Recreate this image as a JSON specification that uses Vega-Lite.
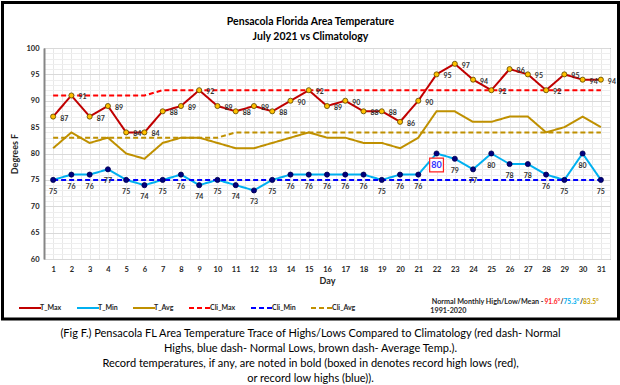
{
  "$schema": "https://vega.github.io/schema/vega-lite/v6.json",
  "padding": 0,
  "background": "white",
  "config": {
    "font": "Lato",
    "view": {"stroke": "#404040", "strokeWidth": 1}
  },
  "datasets": {
    "temps": [
      {"Day": 1, "T_Max": 87, "T_Min": 75, "T_Avg": 81, "Cli_Max": 91, "Cli_Min": 75, "Cli_Avg": 83},
      {"Day": 2, "T_Max": 91, "T_Min": 76, "T_Avg": 84, "Cli_Max": 91, "Cli_Min": 75, "Cli_Avg": 83},
      {"Day": 3, "T_Max": 87, "T_Min": 76, "T_Avg": 82, "Cli_Max": 91, "Cli_Min": 75, "Cli_Avg": 83},
      {"Day": 4, "T_Max": 89, "T_Min": 77, "T_Avg": 83, "Cli_Max": 91, "Cli_Min": 75, "Cli_Avg": 83},
      {"Day": 5, "T_Max": 84, "T_Min": 75, "T_Avg": 80, "Cli_Max": 91, "Cli_Min": 75, "Cli_Avg": 83},
      {"Day": 6, "T_Max": 84, "T_Min": 74, "T_Avg": 79, "Cli_Max": 91, "Cli_Min": 75, "Cli_Avg": 83},
      {"Day": 7, "T_Max": 88, "T_Min": 75, "T_Avg": 82, "Cli_Max": 92, "Cli_Min": 75, "Cli_Avg": 83},
      {"Day": 8, "T_Max": 89, "T_Min": 76, "T_Avg": 83, "Cli_Max": 92, "Cli_Min": 75, "Cli_Avg": 83},
      {"Day": 9, "T_Max": 92, "T_Min": 74, "T_Avg": 83, "Cli_Max": 92, "Cli_Min": 75, "Cli_Avg": 83},
      {"Day": 10, "T_Max": 89, "T_Min": 75, "T_Avg": 82, "Cli_Max": 92, "Cli_Min": 75, "Cli_Avg": 83},
      {"Day": 11, "T_Max": 88, "T_Min": 74, "T_Avg": 81, "Cli_Max": 92, "Cli_Min": 75, "Cli_Avg": 84},
      {"Day": 12, "T_Max": 89, "T_Min": 73, "T_Avg": 81, "Cli_Max": 92, "Cli_Min": 75, "Cli_Avg": 84},
      {"Day": 13, "T_Max": 88, "T_Min": 75, "T_Avg": 82, "Cli_Max": 92, "Cli_Min": 75, "Cli_Avg": 84},
      {"Day": 14, "T_Max": 90, "T_Min": 76, "T_Avg": 83, "Cli_Max": 92, "Cli_Min": 75, "Cli_Avg": 84},
      {"Day": 15, "T_Max": 92, "T_Min": 76, "T_Avg": 84, "Cli_Max": 92, "Cli_Min": 75, "Cli_Avg": 84},
      {"Day": 16, "T_Max": 89, "T_Min": 76, "T_Avg": 83, "Cli_Max": 92, "Cli_Min": 75, "Cli_Avg": 84},
      {"Day": 17, "T_Max": 90, "T_Min": 76, "T_Avg": 83, "Cli_Max": 92, "Cli_Min": 75, "Cli_Avg": 84},
      {"Day": 18, "T_Max": 88, "T_Min": 76, "T_Avg": 82, "Cli_Max": 92, "Cli_Min": 75, "Cli_Avg": 84},
      {"Day": 19, "T_Max": 88, "T_Min": 75, "T_Avg": 82, "Cli_Max": 92, "Cli_Min": 75, "Cli_Avg": 84},
      {"Day": 20, "T_Max": 86, "T_Min": 76, "T_Avg": 81, "Cli_Max": 92, "Cli_Min": 75, "Cli_Avg": 84},
      {"Day": 21, "T_Max": 90, "T_Min": 76, "T_Avg": 83, "Cli_Max": 92, "Cli_Min": 75, "Cli_Avg": 84},
      {"Day": 22, "T_Max": 95, "T_Min": 80, "T_Avg": 88, "Cli_Max": 92, "Cli_Min": 75, "Cli_Avg": 84, "Record_High_Low": true},
      {"Day": 23, "T_Max": 97, "T_Min": 79, "T_Avg": 88, "Cli_Max": 92, "Cli_Min": 75, "Cli_Avg": 84},
      {"Day": 24, "T_Max": 94, "T_Min": 77, "T_Avg": 86, "Cli_Max": 92, "Cli_Min": 75, "Cli_Avg": 84},
      {"Day": 25, "T_Max": 92, "T_Min": 80, "T_Avg": 86, "Cli_Max": 92, "Cli_Min": 75, "Cli_Avg": 84},
      {"Day": 26, "T_Max": 96, "T_Min": 78, "T_Avg": 87, "Cli_Max": 92, "Cli_Min": 75, "Cli_Avg": 84},
      {"Day": 27, "T_Max": 95, "T_Min": 78, "T_Avg": 87, "Cli_Max": 92, "Cli_Min": 75, "Cli_Avg": 84},
      {"Day": 28, "T_Max": 92, "T_Min": 76, "T_Avg": 84, "Cli_Max": 92, "Cli_Min": 75, "Cli_Avg": 84},
      {"Day": 29, "T_Max": 95, "T_Min": 75, "T_Avg": 85, "Cli_Max": 92, "Cli_Min": 75, "Cli_Avg": 84},
      {"Day": 30, "T_Max": 94, "T_Min": 80, "T_Avg": 87, "Cli_Max": 92, "Cli_Min": 75, "Cli_Avg": 84},
      {"Day": 31, "T_Max": 94, "T_Min": 75, "T_Avg": 85, "Cli_Max": 92, "Cli_Min": 75, "Cli_Avg": 84}
    ]
  },
  "title": {
    "text": [
      "(Fig F.) Pensacola FL Area Temperature Trace of Highs/Lows Compared to Climatology (red dash- Normal",
      "Highs, blue dash- Normal Lows, brown dash- Average Temp.).",
      "Record temperatures, if any, are noted in bold (boxed in denotes record high lows (red),",
      "or record low highs (blue))."
    ],
    "orient": "bottom",
    "anchor": "middle",
    "frame": "bounds",
    "font": "Lato",
    "fontSize": 11,
    "fontWeight": "normal",
    "color": "#000000",
    "lineHeight": 15,
    "baseline": "top",
    "offset": 7
  },
  "vconcat": [
    {
      "width": 566,
      "height": 211,
      "title": {
        "text": ["Pensacola Florida Area Temperature", "July 2021 vs Climatology"],
        "anchor": "middle",
        "frame": "bounds",
        "font": "Lato",
        "fontSize": 10.5,
        "fontWeight": "bold",
        "color": "#000000",
        "lineHeight": 15,
        "baseline": "bottom",
        "offset": -52
      },
      "data": {"name": "temps"},
      "resolve": {"axis": {"x": "independent", "y": "independent"}},
      "layer": [
        {
          "data": {"values": [{}]},
          "mark": {"type": "rect", "fill": "white", "fillOpacity": 0, "stroke": "#000000", "strokeWidth": 3, "clip": false},
          "encoding": {
            "x": {"datum": -1.773, "type": "quantitative", "scale": {"domain": [0.5, 31.5]}, "axis": null},
            "x2": {"datum": 31.966},
            "y": {"datum": 108.63, "type": "quantitative", "scale": {"domain": [60, 100]}, "axis": null},
            "y2": {"datum": 48.63}
          }
        },
        {
          "transform": [{"fold": ["T_Max", "T_Min", "T_Avg", "Cli_Max", "Cli_Min", "Cli_Avg"], "as": ["Series", "Temp"]}],
          "mark": {"type": "line", "strokeWidth": 2},
          "encoding": {
            "x": {
              "field": "Day", "type": "quantitative", "scale": {"domain": [0.5, 31.5]},
              "axis": {"orient": "top", "values": [0.5,1,1.5,2,2.5,3,3.5,4,4.5,5,5.5,6,6.5,7,7.5,8,8.5,9,9.5,10,10.5,11,11.5,12,12.5,13,13.5,14,14.5,15,15.5,16,16.5,17,17.5,18,18.5,19,19.5,20,20.5,21,21.5,22,22.5,23,23.5,24,24.5,25,25.5,26,26.5,27,27.5,28,28.5,29,29.5,30,30.5,31,31.5],
                "grid": true, "gridColor": "#e8e8e8", "labels": false, "ticks": false, "domain": false, "title": null, "minExtent": 0}
            },
            "y": {
              "field": "Temp", "type": "quantitative", "scale": {"domain": [60, 100]},
              "axis": {"orient": "right", "values": [61,62,63,64,66,67,68,69,71,72,73,74,76,77,78,79,81,82,83,84,86,87,88,89,91,92,93,94,96,97,98,99],
                "grid": true, "gridColor": "#eeeeee", "labels": false, "ticks": false, "domain": false, "title": null, "minExtent": 0}
            },
            "color": {
              "field": "Series", "type": "nominal",
              "scale": {"domain": ["T_Max", "T_Min", "T_Avg", "Cli_Max", "Cli_Min", "Cli_Avg"], "range": ["#c00000", "#00b0f0", "#bf9000", "#ff0000", "#0000ff", "#bf9000"]},
              "legend": {"orient": "none", "legendX": -26, "legendY": 248, "direction": "horizontal", "columns": 6, "symbolType": "stroke", "symbolSize": 484, "symbolStrokeWidth": 2, "labelFont": "Lato", "labelFontSize": 7, "labelFontWeight": "bold", "labelColor": "#262626", "labelOffset": -2, "columnPadding": 11, "title": null, "padding": 0}
            },
            "strokeDash": {
              "field": "Series", "type": "nominal",
              "scale": {"domain": ["T_Max", "T_Min", "T_Avg", "Cli_Max", "Cli_Min", "Cli_Avg"], "range": [[1, 0], [1, 0], [1, 0], [5, 3], [5, 3], [5, 3]]}
            }
          }
        },
        {
          "mark": {"type": "point", "filled": true, "shape": "circle", "size": 26, "fill": "#ffc000", "stroke": "#5a4500", "strokeWidth": 0.8, "opacity": 1},
          "encoding": {
            "x": {
              "field": "Day", "type": "quantitative", "scale": {"domain": [0.5, 31.5]},
              "axis": {"orient": "bottom", "values": [1,2,3,4,5,6,7,8,9,10,11,12,13,14,15,16,17,18,19,20,21,22,23,24,25,26,27,28,29,30,31], "format": "d",
                "grid": false, "ticks": false, "domain": true, "domainColor": "#d9d9d9", "labelFont": "Lato", "labelFontSize": 7.5, "labelFontWeight": "bold", "labelColor": "#262626", "labelPadding": 6, "labelFlush": false, "labelOverlap": false,
                "title": "Day", "titleFont": "Lato", "titleFontSize": 9, "titleFontWeight": "bold", "titleColor": "#262626", "titlePadding": 4}
            },
            "y": {
              "field": "T_Max", "type": "quantitative", "scale": {"domain": [60, 100]},
              "axis": {"orient": "left", "values": [60,65,70,75,80,85,90,95,100], "grid": true, "gridColor": "#d9d9d9", "ticks": false, "domain": true, "domainColor": "#868686", "domainWidth": 2,
                "labelFont": "Lato", "labelFontSize": 7.5, "labelFontWeight": "bold", "labelColor": "#262626", "labelPadding": 5, "labelFlush": false,
                "title": "Degrees F", "titleFont": "Lato", "titleFontSize": 9, "titleFontWeight": "bold", "titleColor": "#262626", "titlePadding": 6}
            }
          }
        },
        {
          "mark": {"type": "point", "filled": true, "shape": "circle", "size": 26, "fill": "#00007f", "stroke": "#000050", "strokeWidth": 0.8, "opacity": 1},
          "encoding": {
            "x": {"field": "Day", "type": "quantitative", "scale": {"domain": [0.5, 31.5]}, "axis": null},
            "y": {"field": "T_Min", "type": "quantitative", "scale": {"domain": [60, 100]}, "axis": null}
          }
        },
        {
          "mark": {"type": "text", "align": "left", "baseline": "middle", "dx": 7, "dy": 2, "font": "Lato", "fontSize": 7, "fontWeight": "bold", "fill": "#333333"},
          "encoding": {
            "x": {"field": "Day", "type": "quantitative", "scale": {"domain": [0.5, 31.5]}, "axis": null},
            "y": {"field": "T_Max", "type": "quantitative", "scale": {"domain": [60, 100]}, "axis": null},
            "text": {"field": "T_Max", "type": "quantitative"}
          }
        },
        {
          "transform": [{"filter": "datum.Record_High_Low !== true"}],
          "mark": {"type": "text", "align": "center", "baseline": "middle", "dy": 12, "font": "Lato", "fontSize": 7, "fontWeight": "bold", "fill": "#333333"},
          "encoding": {
            "x": {"field": "Day", "type": "quantitative", "scale": {"domain": [0.5, 31.5]}, "axis": null},
            "y": {"field": "T_Min", "type": "quantitative", "scale": {"domain": [60, 100]}, "axis": null},
            "text": {"field": "T_Min", "type": "quantitative"}
          }
        },
        {
          "transform": [{"filter": "datum.Record_High_Low === true"}],
          "mark": {"type": "point", "shape": "square", "filled": true, "size": 190, "fill": "white", "stroke": "#ff2020", "strokeWidth": 1.2, "opacity": 1, "yOffset": 11.5},
          "encoding": {
            "x": {"field": "Day", "type": "quantitative", "scale": {"domain": [0.5, 31.5]}, "axis": null},
            "y": {"field": "T_Min", "type": "quantitative", "scale": {"domain": [60, 100]}, "axis": null}
          }
        },
        {
          "transform": [{"filter": "datum.Record_High_Low === true"}],
          "mark": {"type": "text", "align": "center", "baseline": "middle", "dy": 11.5, "font": "Lato", "fontSize": 9, "fontWeight": "bold", "fill": "#2f2fff"},
          "encoding": {
            "x": {"field": "Day", "type": "quantitative", "scale": {"domain": [0.5, 31.5]}, "axis": null},
            "y": {"field": "T_Min", "type": "quantitative", "scale": {"domain": [60, 100]}, "axis": null},
            "text": {"field": "T_Min", "type": "quantitative"}
          }
        },
        {
          "data": {"values": [{}]},
          "mark": {"type": "text", "align": "right", "baseline": "middle", "font": "Lato", "fontSize": 7.2, "fontWeight": "bold", "fill": "#262626", "clip": false, "text": "Normal Monthly High/Low/Mean - "},
          "encoding": {
            "x": {"datum": 27.86, "type": "quantitative", "scale": {"domain": [0.5, 31.5]}, "axis": null},
            "y": {"datum": 51.85, "type": "quantitative", "scale": {"domain": [60, 100]}, "axis": null}
          }
        },
        {
          "data": {"values": [{}]},
          "mark": {"type": "text", "align": "left", "baseline": "middle", "font": "Lato", "fontSize": 6.6, "fontWeight": "bold", "fill": "#ff2020", "clip": false, "text": "91.6°"},
          "encoding": {
            "x": {"datum": 27.913, "type": "quantitative", "scale": {"domain": [0.5, 31.5]}, "axis": null},
            "y": {"datum": 51.85, "type": "quantitative", "scale": {"domain": [60, 100]}, "axis": null}
          }
        },
        {
          "data": {"values": [{}]},
          "mark": {"type": "text", "align": "center", "baseline": "middle", "font": "Lato", "fontSize": 6.6, "fontWeight": "bold", "fill": "#262626", "clip": false, "text": "/"},
          "encoding": {
            "x": {"datum": 28.871, "type": "quantitative", "scale": {"domain": [0.5, 31.5]}, "axis": null},
            "y": {"datum": 51.85, "type": "quantitative", "scale": {"domain": [60, 100]}, "axis": null}
          }
        },
        {
          "data": {"values": [{}]},
          "mark": {"type": "text", "align": "left", "baseline": "middle", "font": "Lato", "fontSize": 6.6, "fontWeight": "bold", "fill": "#00b0f0", "clip": false, "text": "75.3°"},
          "encoding": {
            "x": {"datum": 28.953, "type": "quantitative", "scale": {"domain": [0.5, 31.5]}, "axis": null},
            "y": {"datum": 51.85, "type": "quantitative", "scale": {"domain": [60, 100]}, "axis": null}
          }
        },
        {
          "data": {"values": [{}]},
          "mark": {"type": "text", "align": "center", "baseline": "middle", "font": "Lato", "fontSize": 6.6, "fontWeight": "bold", "fill": "#262626", "clip": false, "text": "/"},
          "encoding": {
            "x": {"datum": 29.939, "type": "quantitative", "scale": {"domain": [0.5, 31.5]}, "axis": null},
            "y": {"datum": 51.85, "type": "quantitative", "scale": {"domain": [60, 100]}, "axis": null}
          }
        },
        {
          "data": {"values": [{}]},
          "mark": {"type": "text", "align": "left", "baseline": "middle", "font": "Lato", "fontSize": 6.6, "fontWeight": "bold", "fill": "#c9a000", "clip": false, "text": "83.5°"},
          "encoding": {
            "x": {"datum": 30.021, "type": "quantitative", "scale": {"domain": [0.5, 31.5]}, "axis": null},
            "y": {"datum": 51.85, "type": "quantitative", "scale": {"domain": [60, 100]}, "axis": null}
          }
        },
        {
          "data": {"values": [{}]},
          "mark": {"type": "text", "align": "left", "baseline": "middle", "font": "Lato", "fontSize": 7.2, "fontWeight": "bold", "fill": "#262626", "clip": false, "text": "1991-2020"},
          "encoding": {
            "x": {"datum": 21.66, "type": "quantitative", "scale": {"domain": [0.5, 31.5]}, "axis": null},
            "y": {"datum": 50.2, "type": "quantitative", "scale": {"domain": [60, 100]}, "axis": null}
          }
        }
      ]
    }
  ]
}
